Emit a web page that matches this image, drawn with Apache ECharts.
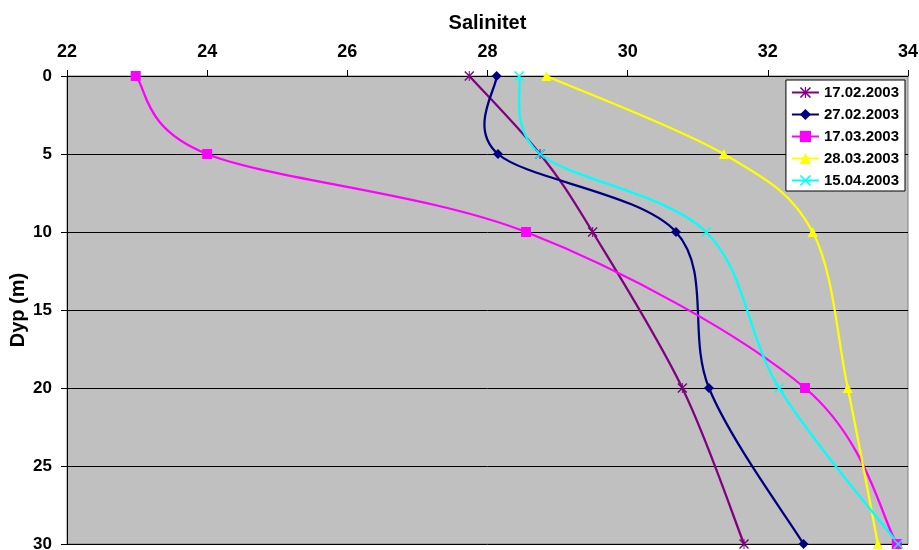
<!DOCTYPE html>
<html>
<head>
<meta charset="utf-8">
<title>Salinitet</title>
<script src="https://cdn.jsdelivr.net/npm/echarts@6/dist/echarts.min.js"></script>
<style>
  html, body { margin: 0; padding: 0; background: #ffffff; }
  #chart { width: 919px; height: 550px; }
</style>
</head>
<body>
<div id="chart"></div>
<script>
// Depth of each sample (m)
const depths = [0, 5, 10, 20, 30];

// Salinity at each depth, per sampling date
const dates = ['17.02.2003', '27.02.2003', '17.03.2003', '28.03.2003', '15.04.2003'];
const sal_170203 = [27.74, 28.75, 29.50, 30.78, 31.66];
const sal_270203 = [28.13, 28.15, 30.69, 31.16, 32.51];
const sal_170303 = [22.98, 24.00, 28.55, 32.53, 33.84];
const sal_280303 = [28.84, 31.37, 32.64, 33.14, 33.57];
const sal_150403 = [28.45, 28.75, 31.12, 32.16, 33.86];

const salinityTicks = [22, 24, 26, 28, 30, 32, 34];
const depthTicks = [0, 5, 10, 15, 20, 25, 30];

const FONT = 'Liberation Sans, Arial, sans-serif';

// Marker shapes
const STAR = 'path://M0,1L1,0L10,9L9,10Z M9,0L10,1L1,10L0,9Z M4.5,0L5.5,0L5.5,10L4.5,10Z';
const CROSS = 'path://M0,1L1,0L10,9L9,10Z M9,0L10,1L1,10L0,9Z';

const seriesDefs = [
  { name: dates[0], values: sal_170203, color: '#800080', symbol: STAR, size: 10 },
  { name: dates[1], values: sal_270203, color: '#000080', symbol: 'diamond', size: 10 },
  { name: dates[2], values: sal_170303, color: '#FF00FF', symbol: 'rect', size: 10 },
  { name: dates[3], values: sal_280303, color: '#FFFF00', symbol: 'triangle', size: 10 },
  { name: dates[4], values: sal_150403, color: '#00FFFF', symbol: CROSS, size: 10 }
];

function pairs(values) {
  return values.map((v, i) => [v, depths[i]]);
}

// Smoothed profile: cubic Bezier segments with Catmull-Rom style tangents,
// computed in pixel space from the axis-mapped sample points.
function smoothCurve(values, color) {
  return function (params, api) {
    const pts = values.map((v, i) => api.coord([v, depths[i]]));
    const n = pts.length;
    const children = [];
    for (let i = 0; i < n - 1; i++) {
      const p0 = pts[Math.max(i - 1, 0)];
      const p1 = pts[i];
      const p2 = pts[i + 1];
      const p3 = pts[Math.min(i + 2, n - 1)];
      children.push({
        type: 'bezierCurve',
        shape: {
          x1: p1[0], y1: p1[1],
          x2: p2[0], y2: p2[1],
          cpx1: p1[0] + (p2[0] - p0[0]) / 6,
          cpy1: p1[1] + (p2[1] - p0[1]) / 6,
          cpx2: p2[0] - (p3[0] - p1[0]) / 6,
          cpy2: p2[1] - (p3[1] - p1[1]) / 6
        },
        style: { stroke: color, lineWidth: 2.25, fill: null }
      });
    }
    return { type: 'group', children: children };
  };
}

const series = [];
seriesDefs.forEach((s, idx) => {
  series.push({
    id: 'curve' + idx,
    type: 'custom',
    data: [[s.values[0], depths[0]]],
    renderItem: smoothCurve(s.values, s.color),
    clip: false,
    silent: true,
    z: 2
  });
  series.push({
    name: s.name,
    type: 'line',
    data: pairs(s.values),
    symbol: s.symbol,
    symbolSize: s.size,
    showAllSymbol: true,
    clip: false,
    lineStyle: { color: s.color, width: 2, opacity: 0 },
    itemStyle: { color: s.color, borderWidth: 0 },
    emphasis: { disabled: true },
    z: 2
  });
});

const chart = echarts.init(document.getElementById('chart'), null, { renderer: 'canvas' });

chart.setOption({
  animation: false,
  backgroundColor: '#ffffff',
  textStyle: { fontFamily: FONT },
  grid: {
    left: 67, top: 76, right: 11, bottom: 6,
    outerBoundsMode: 'none',
    containLabel: false,
    show: true,
    backgroundColor: '#C0C0C0',
    borderColor: '#808080',
    borderWidth: 1
  },
  xAxis: {
    type: 'value',
    position: 'top',
    min: salinityTicks[0],
    max: salinityTicks[salinityTicks.length - 1],
    interval: 2,
    name: 'Salinitet',
    nameLocation: 'middle',
    nameGap: 43,
    nameTextStyle: { fontFamily: FONT, fontWeight: 'bold', fontSize: 20, color: '#000' },
    axisLine: { show: true, onZero: false, lineStyle: { color: '#000', width: 1 } },
    axisTick: { show: true, inside: false, length: 6, lineStyle: { color: '#000' } },
    axisLabel: { margin: 15, fontFamily: FONT, fontWeight: 'bold', fontSize: 18, color: '#000' },
    splitLine: { show: false }
  },
  yAxis: {
    type: 'value',
    inverse: true,
    min: depthTicks[0],
    max: depthTicks[depthTicks.length - 1],
    interval: 5,
    name: 'Dyp (m)',
    nameLocation: 'middle',
    nameGap: 39,
    nameMoveOverlap: false,
    nameRotate: 90,
    nameTextStyle: { fontFamily: FONT, fontWeight: 'bold', fontSize: 20, color: '#000' },
    axisLine: { show: true, onZero: false, lineStyle: { color: '#000', width: 1 } },
    axisTick: { show: true, inside: false, length: 6, lineStyle: { color: '#000' } },
    axisLabel: { margin: 15, fontFamily: FONT, fontWeight: 'bold', fontSize: 17, color: '#000' },
    splitLine: { show: true, lineStyle: { color: '#000', width: 1 } }
  },
  legend: {
    orient: 'vertical',
    right: 14,
    top: 80,
    padding: [5, 6, 3, 5],
    itemGap: 7,
    itemWidth: 27,
    itemHeight: 14,
    backgroundColor: '#ffffff',
    borderColor: '#000',
    borderWidth: 1,
    borderRadius: 0,
    textStyle: { fontFamily: FONT, fontWeight: 'bold', fontSize: 15, color: '#000' },
    data: seriesDefs.map(s => ({
      name: s.name,
      lineStyle: { color: s.color, width: 2, opacity: 1 }
    }))
  },
  series: series
});
</script>
</body>
</html>
